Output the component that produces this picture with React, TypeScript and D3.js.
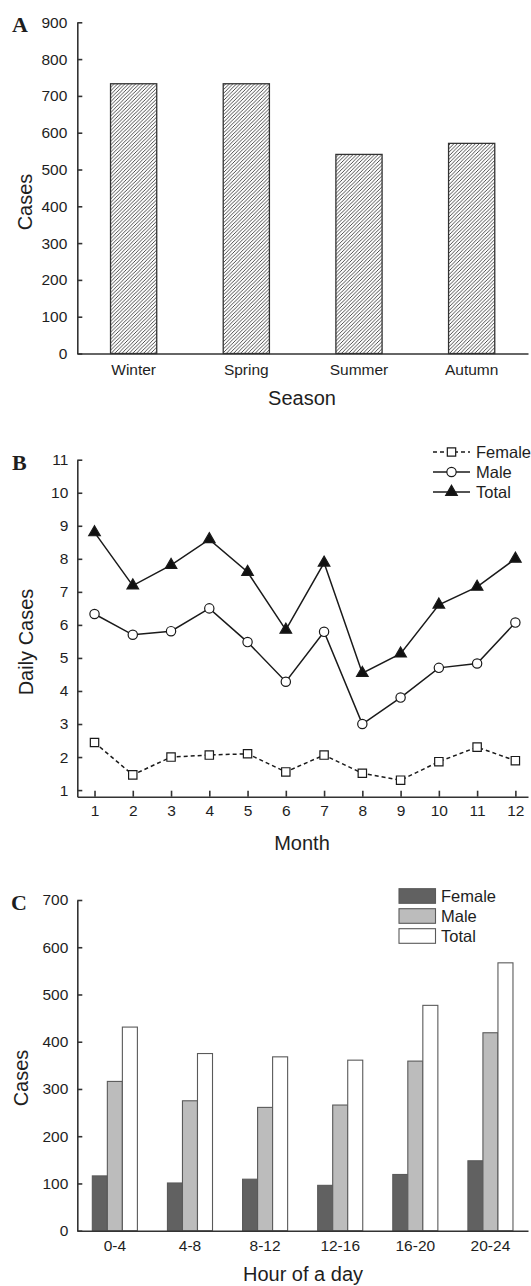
import React, { useEffect, useRef } from 'react';
import * as d3 from 'd3';

// Panel A: cases by season
const seasons = ["Winter", "Spring", "Summer", "Autumn"];
const seasonCases = [733, 733, 541, 571];
const seasonTicks = [0, 100, 200, 300, 400, 500, 600, 700, 800, 900];

// Panel B: daily cases by month
const months = [1, 2, 3, 4, 5, 6, 7, 8, 9, 10, 11, 12];
const femaleDaily = [2.44, 1.46, 2.0, 2.06, 2.1, 1.55, 2.06, 1.51, 1.3, 1.86, 2.3, 1.89];
const maleDaily = [6.33, 5.7, 5.81, 6.5, 5.48, 4.28, 5.79, 3.0, 3.8, 4.7, 4.83, 6.07];
const totalDaily = [8.8, 7.19, 7.81, 8.59, 7.6, 5.85, 7.88, 4.54, 5.13, 6.61, 7.15, 8.0];
const dailyTicks = [1, 2, 3, 4, 5, 6, 7, 8, 9, 10, 11];

// Panel C: cases by hour of day
const hourBins = ["0-4", "4-8", "8-12", "12-16", "16-20", "20-24"];
const femaleHour = [116, 101, 109, 96, 119, 148];
const maleHour = [316, 275, 261, 266, 359, 419];
const totalHour = [431, 375, 368, 361, 477, 567];
const hourTicks = [0, 100, 200, 300, 400, 500, 600, 700];

const SANS = '"Liberation Sans", Arial, sans-serif';
const SERIF = '"Liberation Serif", "Times New Roman", serif';
const INK = "#1e1e1e";

const App = () => {
  const svgRef = useRef(null);
  const width = 531;
  const height = 1286;

  useEffect(() => {
    const svg = d3.select(svgRef.current);
    svg.selectAll("*").remove();

    const left = 77.3;
    const right = 528;

    const styleAxis = (g) => {
      g.attr("font-size", 15.5).attr("font-family", SANS).attr("color", INK);
      g.selectAll("path, line").attr("stroke-width", 1.6).attr("stroke", "#333");
    };

    const panelLetter = (t, x, y) =>
      svg.append("text").attr("x", x).attr("y", y)
        .attr("font-family", SERIF).attr("font-weight", "bold")
        .attr("font-size", 22).attr("fill", INK).text(t);

    const yTitle = (t, x, y) =>
      svg.append("text").attr("transform", `translate(${x},${y}) rotate(-90)`)
        .attr("text-anchor", "middle").attr("font-family", SANS)
        .attr("font-size", 20).attr("fill", INK).text(t);

    const xTitle = (t, x, y) =>
      svg.append("text").attr("x", x).attr("y", y)
        .attr("text-anchor", "middle").attr("font-family", SANS)
        .attr("font-size", 20).attr("fill", INK).text(t);

    // hatch pattern for panel A
    const defs = svg.append("defs");
    defs.append("pattern")
      .attr("id", "hatch")
      .attr("patternUnits", "userSpaceOnUse")
      .attr("width", 3.6).attr("height", 3.6)
      .call(p => p.append("rect").attr("width", 3.6).attr("height", 3.6).attr("fill", "#fff"))
      .append("path")
      .attr("d", "M-0.9,0.9 l1.8,-1.8 M0,3.6 l3.6,-3.6 M2.7,4.5 l1.8,-1.8")
      .attr("stroke", "#3a3a3a").attr("stroke-width", 0.9);

    // ---------- Panel A ----------
    const xA = d3.scaleBand().domain(seasons).range([left, right]).paddingInner(0.59).paddingOuter(0.295);
    const yA = d3.scaleLinear().domain([0, 900]).range([353.5, 22.3]);

    svg.append("g").selectAll("rect").data(seasonCases).enter().append("rect")
      .attr("x", (d, i) => xA(seasons[i]))
      .attr("y", d => yA(d))
      .attr("width", xA.bandwidth())
      .attr("height", d => yA(0) - yA(d))
      .attr("fill", "url(#hatch)")
      .attr("stroke", "#333").attr("stroke-width", 1.3);

    svg.append("g").attr("transform", `translate(${left},0)`)
      .call(d3.axisLeft(yA).tickValues(seasonTicks).tickSizeInner(-5).tickSizeOuter(0).tickPadding(10))
      .call(styleAxis);
    svg.append("g").attr("transform", `translate(0,${yA(0)})`)
      .call(d3.axisBottom(xA).tickSize(0).tickPadding(10))
      .call(styleAxis);

    panelLetter("A", 12, 32);
    yTitle("Cases", 32, 202);
    xTitle("Season", 302, 405);

    // ---------- Panel B ----------
    const xB = d3.scaleLinear().domain([0.55, 12.33]).range([left, right]);
    const yB = d3.scaleLinear().domain([0.8, 11]).range([796.7, 459.7]);

    svg.append("g").attr("transform", `translate(${left},0)`)
      .call(d3.axisLeft(yB).tickValues(dailyTicks).tickSizeInner(-5).tickSizeOuter(0).tickPadding(9))
      .call(styleAxis);
    svg.append("g").attr("transform", `translate(0,${yB.range()[0]})`)
      .call(d3.axisBottom(xB).tickValues(months).tickFormat(d3.format("d")).tickSizeInner(-6).tickSizeOuter(0).tickPadding(8.5))
      .call(styleAxis);

    const line = d3.line().x((d, i) => xB(months[i])).y(d => yB(d));
    const series = [
      { name: "Female", values: femaleDaily, dash: "4,3", marker: d3.symbolSquare, size: 70, fill: "#fff" },
      { name: "Male", values: maleDaily, dash: null, marker: d3.symbolCircle, size: 68, fill: "#fff" },
      { name: "Total", values: totalDaily, dash: null, marker: d3.symbolTriangle, size: 58, fill: "#111" },
    ];

    series.forEach(s => {
      svg.append("path").datum(s.values)
        .attr("d", line).attr("fill", "none")
        .attr("stroke", "#1a1a1a").attr("stroke-width", 1.5)
        .attr("stroke-dasharray", s.dash);
      svg.append("g").selectAll("path").data(s.values).enter().append("path")
        .attr("transform", (d, i) => `translate(${xB(months[i])},${yB(d)})`)
        .attr("d", d3.symbol(s.marker, s.size))
        .attr("fill", s.fill).attr("stroke", "#1a1a1a").attr("stroke-width", 1.2);
    });

    // legend B
    const legB = svg.append("g").attr("font-family", SANS).attr("font-size", 16.5);
    series.forEach((s, i) => {
      const ly = 452 + i * 20;
      legB.append("line").attr("x1", 433).attr("x2", 470).attr("y1", ly).attr("y2", ly)
        .attr("stroke", "#1a1a1a").attr("stroke-width", 1.5).attr("stroke-dasharray", s.dash);
      legB.append("path").attr("transform", `translate(451.5,${ly})`)
        .attr("d", d3.symbol(s.marker, s.size))
        .attr("fill", s.fill).attr("stroke", "#1a1a1a").attr("stroke-width", 1.2);
      legB.append("text").attr("x", 476).attr("y", ly).attr("dy", "0.35em")
        .attr("fill", INK).text(s.name);
    });

    panelLetter("B", 12, 470);
    yTitle("Daily Cases", 33, 642);
    xTitle("Month", 302, 850);

    // ---------- Panel C ----------
    const groups = [
      { name: "Female", values: femaleHour, fill: "#616161" },
      { name: "Male", values: maleHour, fill: "#bcbcbc" },
      { name: "Total", values: totalHour, fill: "#ffffff" },
    ];
    const xC = d3.scaleBand().domain(hourBins).range([left, right]).paddingInner(0.4).paddingOuter(0.2);
    const xSub = d3.scaleBand().domain(groups.map(g => g.name)).range([0, xC.bandwidth()]);
    const yC = d3.scaleLinear().domain([0, 700]).range([1230.7, 900]);

    groups.forEach(g => {
      svg.append("g").selectAll("rect").data(g.values).enter().append("rect")
        .attr("x", (d, i) => xC(hourBins[i]) + xSub(g.name))
        .attr("y", d => yC(d))
        .attr("width", xSub.bandwidth())
        .attr("height", d => yC(0) - yC(d))
        .attr("fill", g.fill)
        .attr("stroke", "#5a5a5a").attr("stroke-width", 1.1);
    });

    svg.append("g").attr("transform", `translate(${left},0)`)
      .call(d3.axisLeft(yC).tickValues(hourTicks).tickSizeInner(-5).tickSizeOuter(0).tickPadding(9))
      .call(styleAxis);
    svg.append("g").attr("transform", `translate(0,${yC(0)})`)
      .call(d3.axisBottom(xC).tickSize(0).tickPadding(9))
      .call(styleAxis);

    // legend C
    const legC = svg.append("g").attr("font-family", SANS).attr("font-size", 16.5);
    groups.forEach((g, i) => {
      const ly = 896 + i * 20;
      legC.append("rect").attr("x", 399).attr("y", ly - 7.3).attr("width", 36.5).attr("height", 14.6)
        .attr("fill", g.fill).attr("stroke", "#5a5a5a").attr("stroke-width", 1.1);
      legC.append("text").attr("x", 441).attr("y", ly).attr("dy", "0.35em")
        .attr("fill", INK).text(g.name);
    });

    panelLetter("C", 11, 910);
    yTitle("Cases", 28, 1078);
    xTitle("Hour of a day", 303, 1281);
  }, []);

  return (
    <svg ref={svgRef} width={width} height={height}
      style={{ position: "absolute", left: 0, top: 0, background: "#fff" }} />
  );
};

export default App;
